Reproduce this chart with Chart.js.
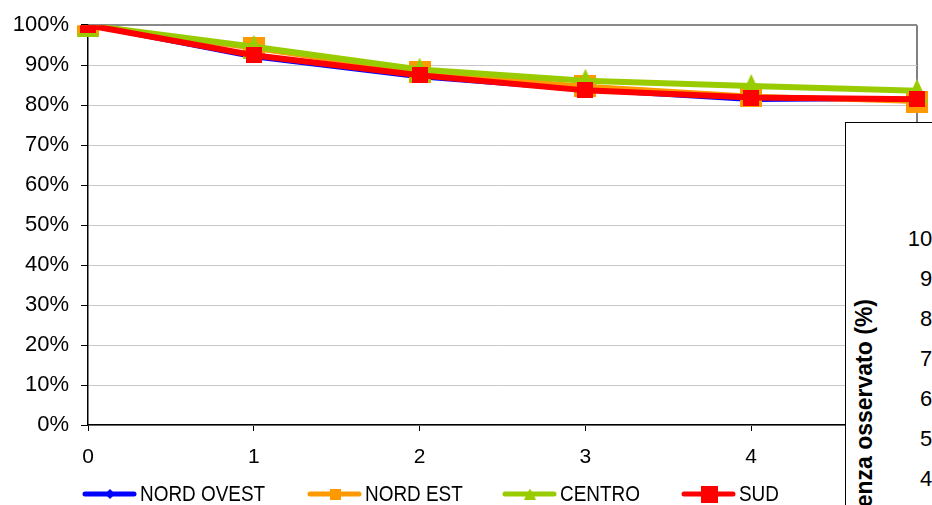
<!DOCTYPE html>
<html>
<head>
<meta charset="utf-8">
<script src="https://cdn.jsdelivr.net/npm/chart.js@4.4.1/dist/chart.umd.min.js"></script>
<style>
  html, body { margin: 0; padding: 0; background: #fff; overflow: hidden; }
  #wrap { position: relative; width: 932px; height: 505px; overflow: hidden; }
  #chart { position: absolute; left: 0; top: 0; }
  #panel {
    position: absolute; left: 845px; top: 122px; width: 120px; height: 420px;
    background: #fff; border-left: 1.5px solid #000; border-top: 1.5px solid #000;
    font-family: "Liberation Sans", Arial, sans-serif; color: #000;
  }
  #panel .tick { position: absolute; font-size: 22px; line-height: 22px; white-space: nowrap; }
  #panel .title {
    position: absolute; left: 0; top: 0; width: 300px; text-align: right;
    font-size: 23px; line-height: 22px; font-weight: bold; white-space: nowrap;
    transform-origin: 0 0;
  }
</style>
</head>
<body>
<div id="wrap">
  <canvas id="chart" width="932" height="505"></canvas>
  <div id="panel"></div>
</div>
<script>
// Years since diagnosis
const years = ['0', '1', '2', '3', '4', '5'];

// Observed survival by area (%)
const nordOvest = [100, 92.0, 87.0, 83.8, 81.3, 81.6];
const nordEst   = [100, 94.2, 88.2, 84.7, 82.2, 80.9];
const centro    = [100, 94.6, 88.9, 86.1, 84.8, 83.6];
const sud       = [100, 92.5, 87.5, 83.7, 81.9, 81.5];

const seriesNames = ['NORD OVEST', 'NORD EST', 'CENTRO', 'SUD'];

// Neighbouring panel: its y tick labels and axis title
const panelTicks = ['100%', '90%', '80%', '70%', '60%', '50%', '40%'];
const panelTitle = 'enza osservato (%)';

const FONT = '"Liberation Sans", Arial, sans-serif';

// Marker sprites, drawn onto small canvases
function marker(shape, w, h, color) {
  const c = document.createElement('canvas');
  c.width = w; c.height = h;
  const g = c.getContext('2d');
  g.fillStyle = color;
  g.beginPath();
  if (shape === 'square') {
    g.rect(0, 0, w, h);
  } else if (shape === 'triangle') {
    g.moveTo(w / 2, 0); g.lineTo(w, h); g.lineTo(0, h); g.closePath();
  } else if (shape === 'diamond') {
    g.moveTo(w / 2, 0); g.lineTo(w, h / 2); g.lineTo(w / 2, h); g.lineTo(0, h / 2); g.closePath();
  }
  g.fill();
  return c;
}

const colors = ['#0000ff', '#ff9900', '#99cc00', '#ff0000'];
const chartMarkers = [
  marker('diamond', 10, 10, colors[0]),
  marker('square', 22, 22, colors[1]),
  marker('triangle', 22, 24, colors[2]),
  marker('square', 16, 16, colors[3])
];
const legendMarkers = [
  marker('diamond', 10, 10, colors[0]),
  marker('square', 11, 11, colors[1]),
  marker('triangle', 12, 11, colors[2]),
  marker('square', 17, 17, colors[3])
];
const lineWidths = [4, 5, 6, 6];
const seriesData = [nordOvest, nordEst, centro, sud];

// Legend below the axis: one line sample with its marker, then the name
const legendX = [83, 308, 503, 682];
const legendPlugin = {
  id: 'rowLegend',
  afterDraw(chart) {
    const ctx = chart.ctx;
    const y = 494;
    ctx.save();
    seriesNames.forEach((name, i) => {
      const x0 = legendX[i];
      ctx.strokeStyle = colors[i];
      ctx.lineWidth = 5;
      ctx.lineCap = 'round';
      ctx.beginPath();
      ctx.moveTo(x0 + 2, y);
      ctx.lineTo(x0 + 51, y);
      ctx.stroke();
      const m = legendMarkers[i];
      ctx.drawImage(m, x0 + 27 - m.width / 2, y - m.height / 2);
      ctx.fillStyle = '#000';
      ctx.font = '22px ' + FONT;
      ctx.textBaseline = 'middle';
      ctx.translate(x0 + 57, y + 1);
      ctx.scale(0.86, 1);
      ctx.fillText(name, 0, 0);
      ctx.setTransform(1, 0, 0, 1, 0, 0);
    });
    ctx.restore();
  }
};

new Chart(document.getElementById('chart'), {
  type: 'line',
  data: {
    labels: years,
    datasets: seriesNames.map((name, i) => ({
      label: name,
      data: seriesData[i],
      borderColor: colors[i],
      backgroundColor: colors[i],
      borderWidth: lineWidths[i],
      pointStyle: chartMarkers[i],
      pointRadius: 8,
      tension: 0,
      order: 4 - i
    }))
  },
  options: {
    responsive: false,
    animation: false,
    events: [],
    layout: { padding: { top: 25, right: 15, left: 0, bottom: 0 } },
    plugins: { legend: { display: false }, tooltip: { enabled: false } },
    scales: {
      x: {
        type: 'category',
        offset: false,
        afterFit(scale) {
          scale.height = 80;
          scale.paddingLeft = 0;
          scale.paddingRight = 0;
        },
        border: { color: '#000', width: 1.5 },
        grid: {
          color: (c) => c.index === years.length - 1 ? '#808080' : 'rgba(0,0,0,0)',
          lineWidth: (c) => c.index === years.length - 1 ? 2 : 1,
          tickColor: '#000',
          tickLength: 6
        },
        ticks: { color: '#000', padding: 14, maxRotation: 0, font: { family: FONT, size: 21 } }
      },
      y: {
        min: 0,
        max: 100,
        afterFit(scale) { scale.width = 88; },
        border: { color: '#000', width: 1.5 },
        grid: {
          color: (c) => c.tick && c.tick.value === 100 ? '#8a8a8a' : '#c8c8c8',
          lineWidth: (c) => c.tick && c.tick.value === 100 ? 2 : 1,
          tickColor: '#000',
          tickLength: 7
        },
        ticks: {
          stepSize: 10,
          color: '#000',
          padding: 12,
          font: { family: FONT, size: 22 },
          callback: (v) => v + '%'
        }
      }
    }
  },
  plugins: [legendPlugin]
});

// Neighbouring panel overlapping the right edge
const panel = document.getElementById('panel');
panelTicks.forEach((t, i) => {
  const s = document.createElement('span');
  s.className = 'tick';
  s.textContent = t;
  s.style.right = '2px';
  s.style.top = (238 - 122 - 11 + i * 40) + 'px';
  panel.appendChild(s);
});
const title = document.createElement('span');
title.className = 'title';
title.textContent = panelTitle;
title.style.transform = 'translate(7px, ' + (298 - 122 + 300) + 'px) rotate(-90deg)';
panel.appendChild(title);
</script>
</body>
</html>
